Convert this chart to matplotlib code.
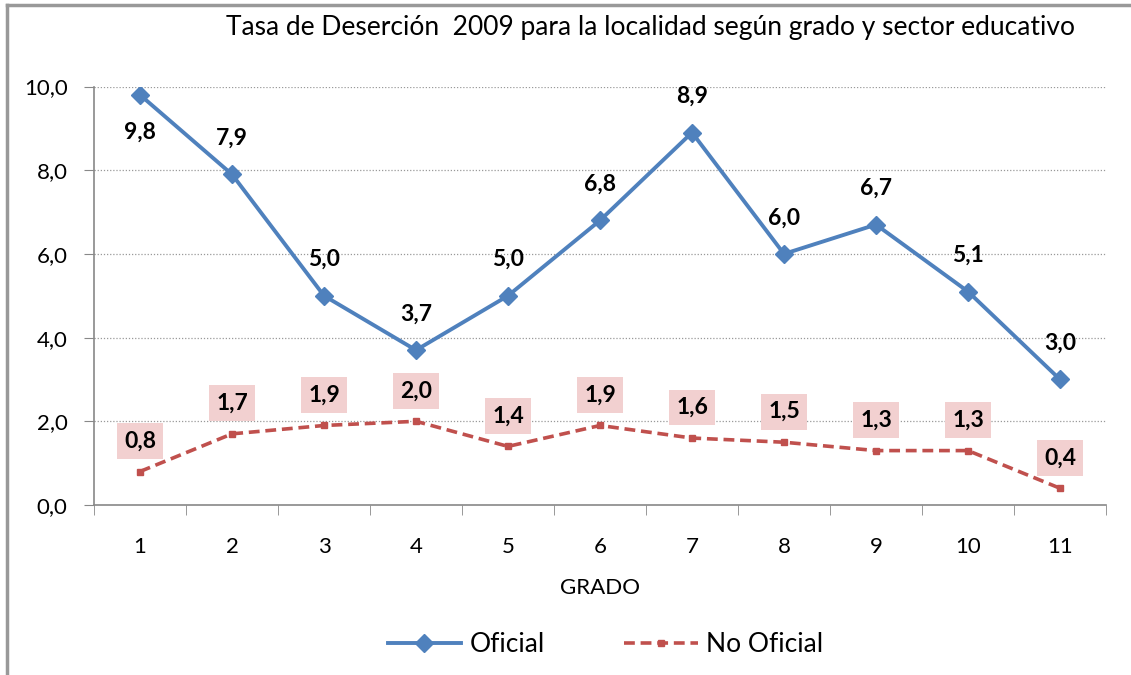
import matplotlib
matplotlib.use("Agg")
import matplotlib.pyplot as plt
from matplotlib.lines import Line2D

plt.rcParams['font.family'] = ['Lato', 'DejaVu Sans']

grados = [1, 2, 3, 4, 5, 6, 7, 8, 9, 10, 11]
oficial = [9.8, 7.9, 5.0, 3.7, 5.0, 6.8, 8.9, 6.0, 6.7, 5.1, 3.0]
no_oficial = [0.8, 1.7, 1.9, 2.0, 1.4, 1.9, 1.6, 1.5, 1.3, 1.3, 0.4]
yticks = [0, 2, 4, 6, 8, 10]

blue = '#4F81BD'
red = '#C0504D'
pink = '#F2D0D0'

fig = plt.figure(figsize=(11.31, 6.75), dpi=100)
ax = fig.add_axes([94/1131, 170/675, 1012/1131, 418.5/675])

ax.plot(grados, oficial, color=blue, lw=2.8, marker='D', ms=9, label='Oficial', zorder=3)
ax.plot(grados, no_oficial, color=red, lw=2.6, ls=(0, (3, 1.6)), marker='s', ms=5,
        label='No Oficial', zorder=3)

def fmt(v):
    return f'{v:.1f}'.replace('.', ',')

for i, (x, v) in enumerate(zip(grados, oficial)):
    dy = -27 if i == 0 else 26
    ax.annotate(fmt(v), (x, v), xytext=(0, dy), textcoords='offset points',
                ha='center', va='center', fontsize=16.5, fontweight='bold', color='black')

for x, v in zip(grados, no_oficial):
    ax.annotate(fmt(v), (x, v), xytext=(0, 22), textcoords='offset points',
                ha='center', va='center', fontsize=16.5, fontweight='bold', color='black',
                bbox=dict(boxstyle='square,pad=0.32', fc=pink, ec='none'))

ax.set_xlim(0.5, 11.5)
ax.set_ylim(0, 10)
ax.set_yticks(yticks)
ax.set_yticklabels([fmt(t) for t in yticks], fontsize=16)
ax.set_xticks(grados)
ax.set_xticklabels([str(g) for g in grados], fontsize=16)
ax.set_xticks([g + 0.5 for g in [0] + grados], minor=True)
ax.tick_params(axis='x', which='major', length=0, pad=23)
ax.tick_params(axis='x', which='minor', length=7, color='#888888')
ax.tick_params(axis='y', length=7, color='#888888', pad=12)

for y in yticks[1:]:
    ax.axhline(y, color='#999999', lw=0.9, ls=(0, (1, 1.5)), zorder=1)

for s in ['top', 'right']:
    ax.spines[s].set_visible(False)
for s in ['left', 'bottom']:
    ax.spines[s].set_color('#888888')
    ax.spines[s].set_linewidth(1.2)

ax.set_xlabel('GRADO', fontsize=16, labelpad=15)
fig.text(0.575, 1 - 28/675, 'Tasa de Deserción  2009 para la localidad según grado y sector educativo',
         ha='center', va='center', fontsize=19)

handles = [Line2D([], [], color=blue, lw=2.8, marker='D', ms=9),
           Line2D([], [], color=red, lw=2.6, ls=(0, (3, 1.6)), marker='s', ms=5)]
fig.legend(handles, ['Oficial', 'No Oficial'], loc='center', bbox_to_anchor=(0.535, 1 - 645/675),
           ncol=2, frameon=False, fontsize=19, handlelength=2.8, handletextpad=0.3,
           columnspacing=3.0)

# outer chart frame (top and left edges visible)
fig.add_artist(Line2D([7/1131, 7/1131], [0, 1 - 5/675], color='#999999', lw=2.5,
                      transform=fig.transFigure))
fig.add_artist(Line2D([7/1131, 1], [1 - 5/675, 1 - 5/675], color='#999999', lw=2.5,
                      transform=fig.transFigure))

fig.savefig('out.png', dpi=100)
